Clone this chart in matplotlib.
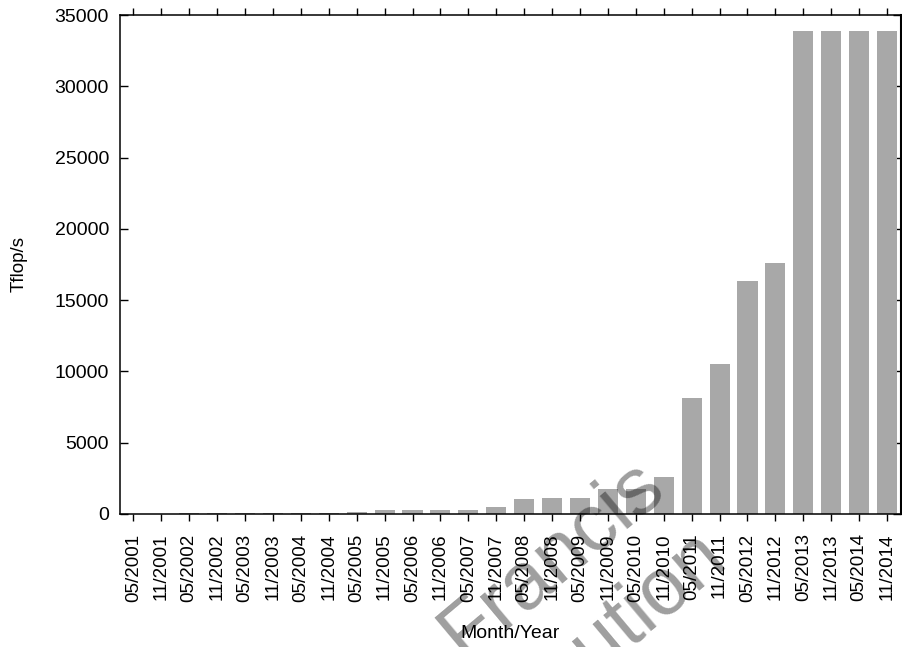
import matplotlib
matplotlib.use("Agg")
import matplotlib.pyplot as plt

plt.rcParams['font.family'] = ['Liberation Sans', 'DejaVu Sans']

# No. 1 system performance on each TOP500 list (Tflop/s)
months = ["05/2001", "11/2001", "05/2002", "11/2002", "05/2003", "11/2003",
          "05/2004", "11/2004", "05/2005", "11/2005", "05/2006", "11/2006",
          "05/2007", "11/2007", "05/2008", "11/2008", "05/2009", "11/2009",
          "05/2010", "11/2010", "05/2011", "11/2011", "05/2012", "11/2012",
          "05/2013", "11/2013", "05/2014", "11/2014"]
tflops = [7.226, 7.226, 35.86, 35.86, 35.86, 35.86,
          35.86, 70.72, 136.8, 280.6, 280.6, 280.6,
          280.6, 478.2, 1026, 1105, 1105, 1759,
          1759, 2566, 8162, 10510, 16324, 17590,
          33863, 33863, 33863, 33863]
y_ticks = [0, 5000, 10000, 15000, 20000, 25000, 30000, 35000]

fig = plt.figure(figsize=(9.03, 6.47), dpi=100)
ax = fig.add_axes([0.1329, 0.2056, 0.8649, 0.7712])

x = list(range(len(months)))
ax.bar(x, tflops, width=0.72, color="#a8a8a8", zorder=2)

ax.set_xlim(-0.48, len(months) - 0.5)
ax.set_ylim(0, 35000)
ax.set_yticks(y_ticks)
ax.set_xticks(x)
ax.set_xticklabels(months, rotation=90, va="top", ha="center")

for s in ax.spines.values():
    s.set_linewidth(1.1)
ax.spines["right"].set_linewidth(1.5)
ax.tick_params(axis="x", direction="out", top=True, length=5, width=1.0,
               pad=9, labelsize=13.5)
ax.tick_params(axis="y", direction="in", right=True, length=6, width=1.0,
               pad=8, labelsize=14)

ax.set_ylabel("Tflop/s", fontsize=13.5)
ax.yaxis.set_label_coords(-0.118, 0.5)
ax.set_xlabel("Month/Year", fontsize=14, va="top")
ax.xaxis.set_label_coords(0.5, -0.222)

# publisher watermark, runs off the lower edge
wm = dict(fontsize=58, color="black", alpha=0.38, rotation=40,
          rotation_mode="anchor", ha="right", va="baseline", zorder=10)
fig.text(668 / 903, 1 - 495 / 647, "Taylor & Francis", **wm)
fig.text(730 / 903, 1 - 565 / 647, "Not for distribution", **wm)

fig.savefig("out.png", dpi=100)
